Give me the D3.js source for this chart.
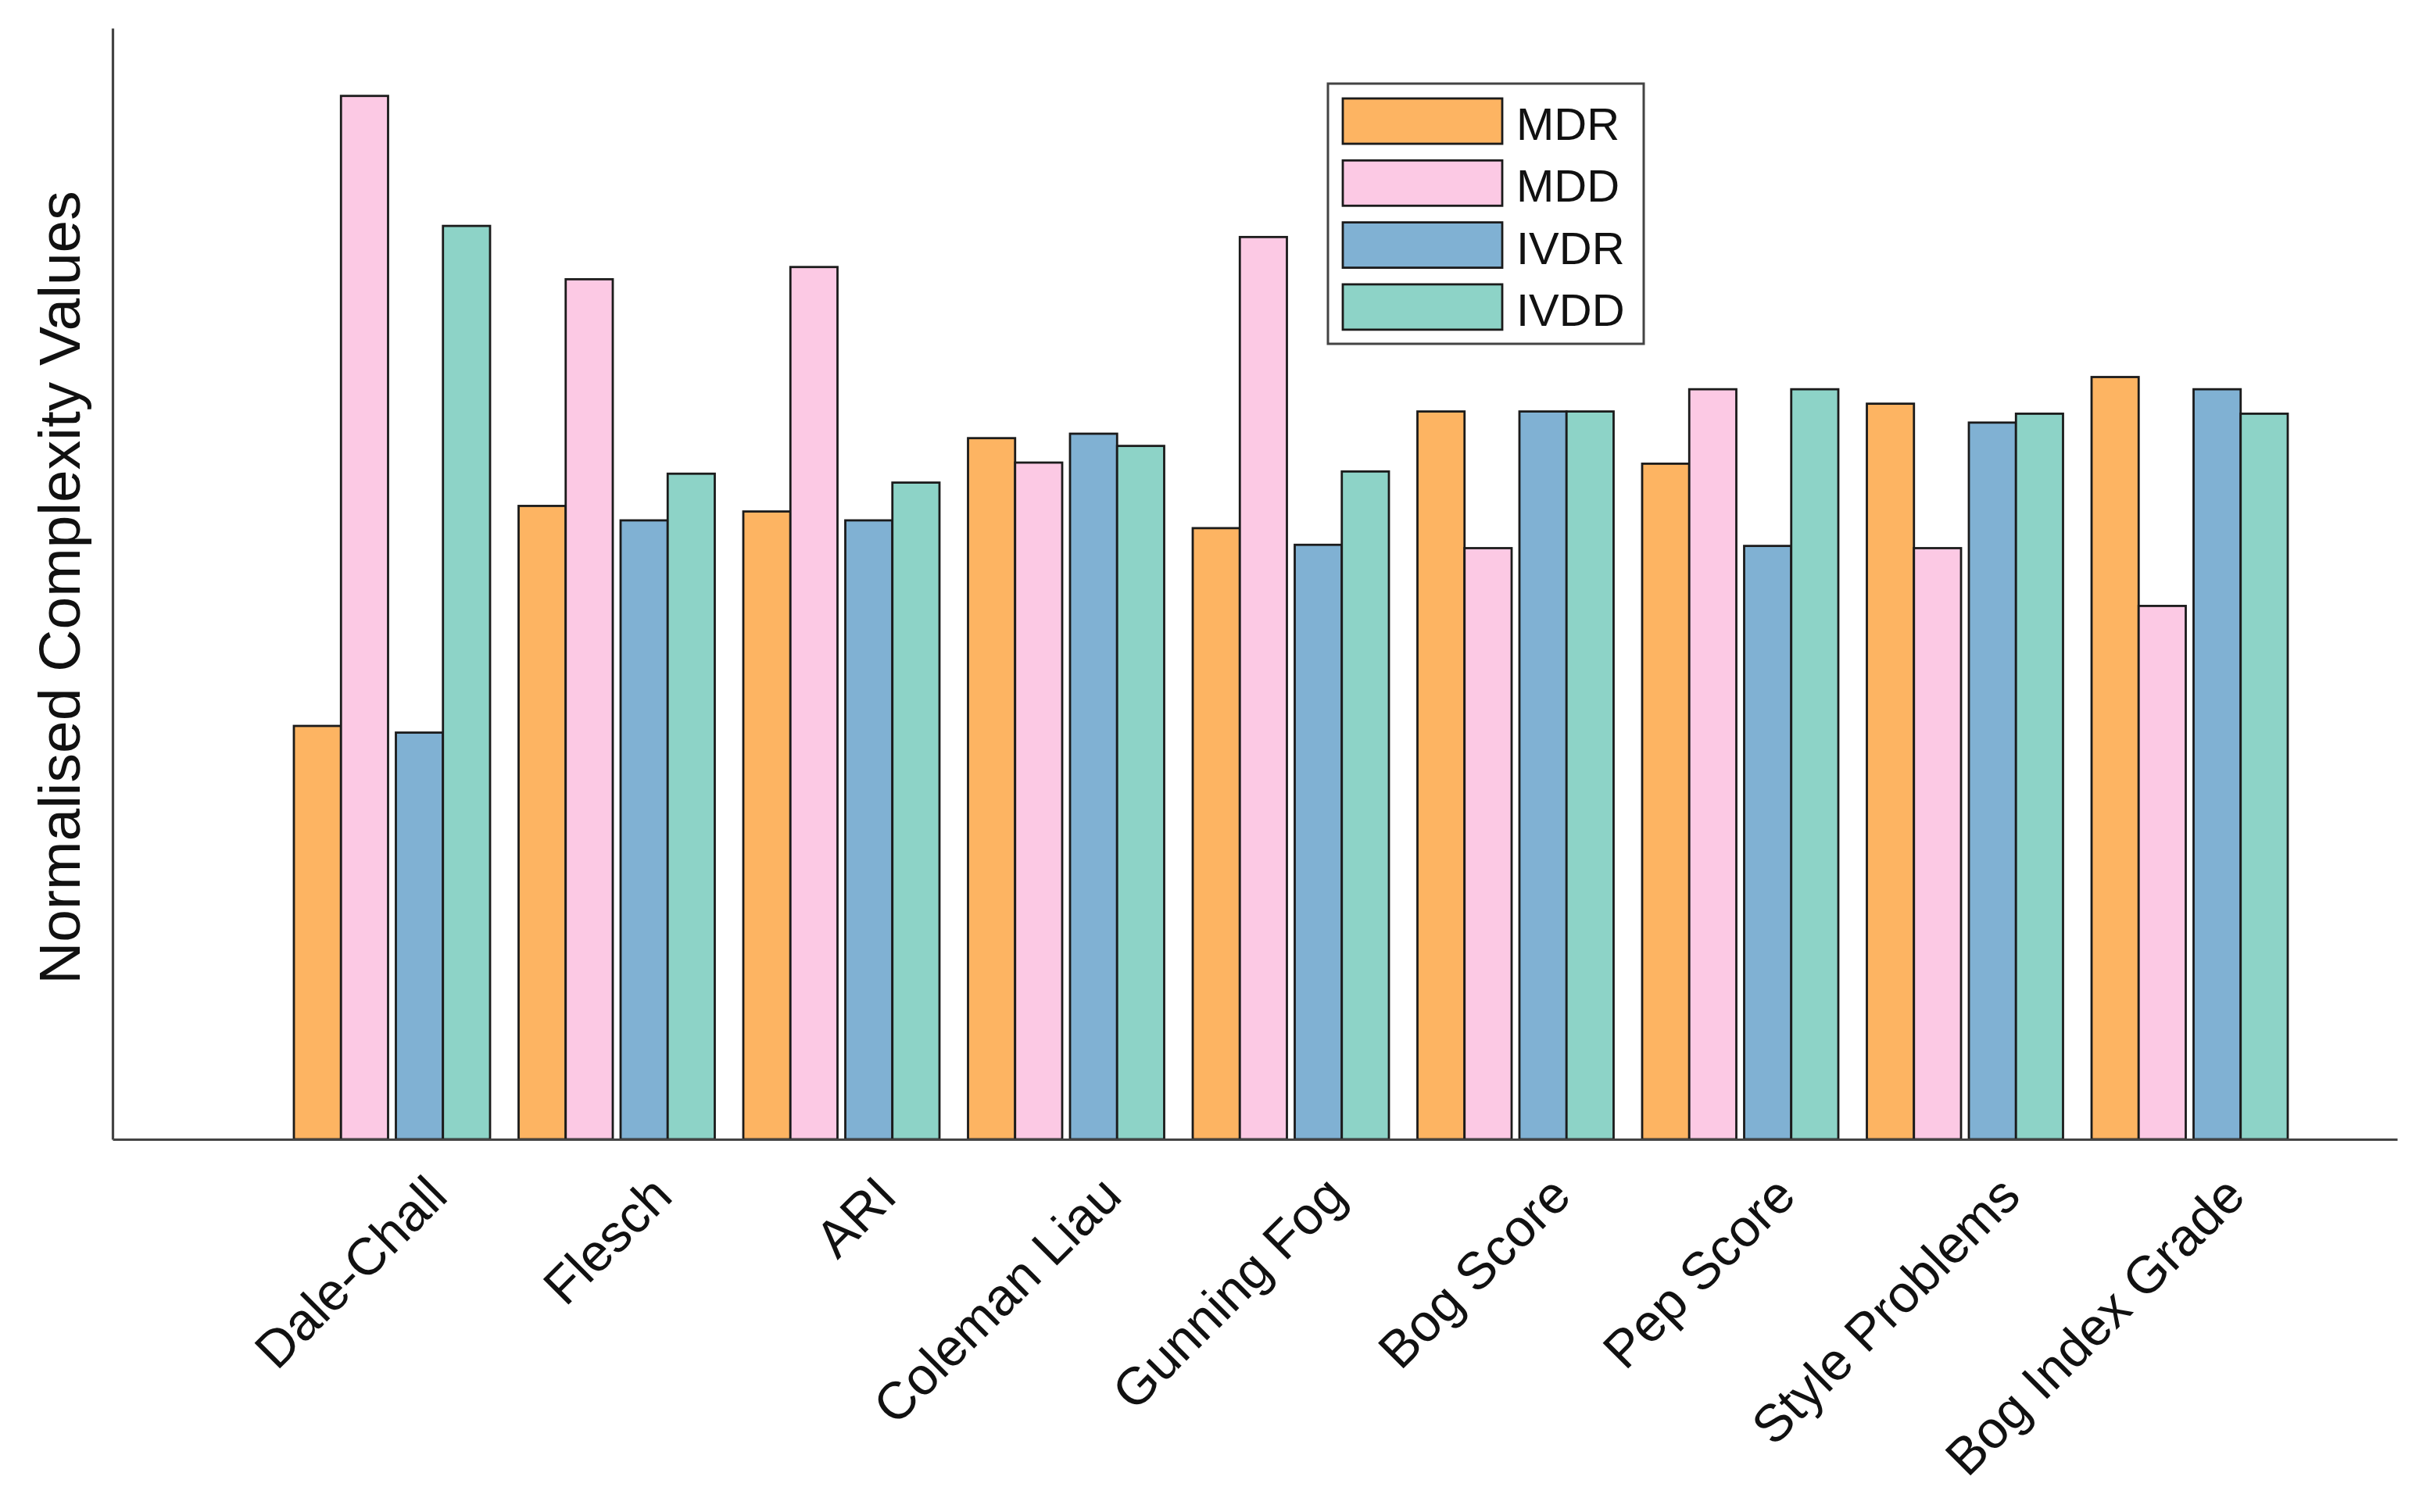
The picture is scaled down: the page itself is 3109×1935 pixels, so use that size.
<!DOCTYPE html>
<html>
<head>
<meta charset="utf-8">
<script src="https://cdn.jsdelivr.net/npm/d3@7"></script>
<style>
  html, body { margin: 0; padding: 0; background: #ffffff; }
  svg { display: block; }
  text { font-family: "Liberation Sans", Arial, Helvetica, sans-serif; fill: #111; }
</style>
</head>
<body>
<script>
const categories = ["Dale-Chall", "Flesch", "ARI", "Coleman Liau", "Gunning Fog", "Bog Score", "Pep Score", "Style Problems", "Bog Index Grade"];
const seriesNames = ["MDR", "MDD", "IVDR", "IVDD"];
const seriesColors = ["#FDB462", "#FCC9E4", "#80B1D3", "#8DD3C7"];
const MDR  = [0.372, 0.570, 0.565, 0.631, 0.550, 0.655, 0.608, 0.662, 0.686];
const MDD  = [0.939, 0.774, 0.785, 0.609, 0.812, 0.532, 0.675, 0.532, 0.480];
const IVDR = [0.366, 0.557, 0.557, 0.635, 0.535, 0.655, 0.534, 0.645, 0.675];
const IVDD = [0.822, 0.599, 0.591, 0.624, 0.601, 0.655, 0.675, 0.653, 0.653];
const yLabel = "Normalised Complexity Values";

const W = 3109, H = 1935;
const seriesValues = [MDR, MDD, IVDR, IVDD];

const svg = d3.select("body").append("svg").attr("width", W).attr("height", H);
svg.append("rect").attr("width", W).attr("height", H).attr("fill", "#fff");

const axisLeftX = 144, axisRightX = 3067, baseY = 1458, topY = 36;

const y = d3.scaleLinear().domain([0, 1]).range([baseY, topY]);
const x = d3.scaleBand().domain(categories).range([357.75, 2945.25]).paddingInner(0.127).paddingOuter(0.0635);

const pairGap = 10;
const barW = (x.bandwidth() - pairGap) / 4;
const sub = d3.scaleBand().domain(seriesNames).range([0, barW * 4]);
const subX = (s, i) => sub(s) + (i >= 2 ? pairGap : 0);

// bars
const data = [];
categories.forEach((c, ci) => {
  seriesNames.forEach((s, si) => {
    data.push({ cat: c, series: s, si: si, value: seriesValues[si][ci] });
  });
});

svg.append("g").selectAll("rect").data(data).join("rect")
  .attr("x", d => x(d.cat) + subX(d.series, d.si))
  .attr("y", d => y(d.value))
  .attr("width", sub.bandwidth())
  .attr("height", d => y(0) - y(d.value))
  .attr("fill", d => seriesColors[d.si])
  .attr("stroke", "#1b1b1b")
  .attr("stroke-width", 2.8);

// y axis
const yAxis = svg.append("g").attr("transform", `translate(${axisLeftX},0)`)
  .call(d3.axisLeft(y).tickValues([]).tickSizeOuter(0));
yAxis.select(".domain").attr("stroke", "#444").attr("stroke-width", 3.2);

// x axis line
const xAxisScale = d3.scaleLinear().domain([0, 1]).range([axisLeftX, axisRightX]);
const xAxis = svg.append("g").attr("transform", `translate(0,${baseY})`)
  .call(d3.axisBottom(xAxisScale).tickValues([]).tickSizeOuter(0));
xAxis.select(".domain").attr("stroke", "#444").attr("stroke-width", 3.2);

// tick labels
svg.append("g").selectAll("text").data(categories).join("text")
  .attr("transform", d => `translate(${x(d) + x.bandwidth() / 2 + 74},${baseY + 76}) rotate(-45)`)
  .attr("text-anchor", "end")
  .attr("font-size", 67)
  .text(d => d);

// y label
svg.append("text")
  .attr("transform", `translate(102,752) rotate(-90)`)
  .attr("text-anchor", "middle")
  .attr("font-size", 75)
  .text(yLabel);

// legend
const lg = svg.append("g").attr("transform", "translate(1699,107)");
lg.append("rect").attr("x", 0).attr("y", 0).attr("width", 404).attr("height", 333)
  .attr("fill", "#fff").attr("stroke", "#444").attr("stroke-width", 3);
const items = lg.selectAll("g.item").data(seriesNames).join("g").attr("class", "item")
  .attr("transform", (d, i) => `translate(19,${19 + i * 79.3})`);
items.append("rect").attr("width", 204).attr("height", 58)
  .attr("fill", (d, i) => seriesColors[i]).attr("stroke", "#1b1b1b").attr("stroke-width", 2.8);
items.append("text").attr("x", 222).attr("y", 29 + 24).attr("font-size", 58).text(d => d);
</script>
</body>
</html>
